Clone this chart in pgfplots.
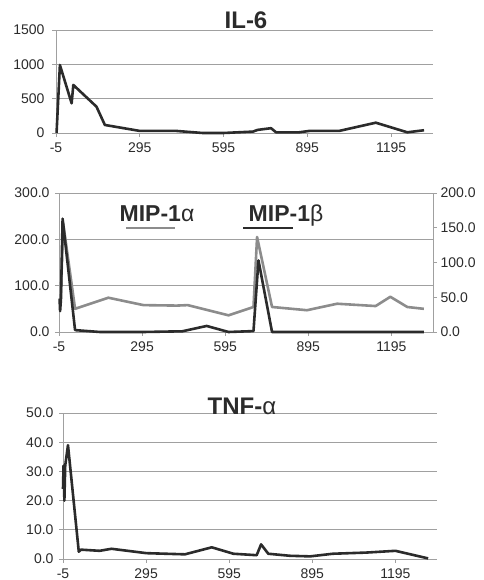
\documentclass[border=0pt]{standalone}
\usepackage{pgfplots}
\pgfplotsset{compat=1.18}
\usepackage{fontspec}
\setmainfont{Liberation Sans}

\definecolor{dk}{HTML}{2B2B2B}
\definecolor{lg}{HTML}{8C8C8C}
\definecolor{gridc}{HTML}{A0A0A0}

\pgfplotsset{
  excel/.style={
    scale only axis,
    anchor=south west,
    xmin=-5, xmax=1345,
    xtick={-5,295,595,895,1195},
    axis x line*=bottom, axis y line*=left,
    axis line style={gridc, line width=0.8pt},
    tick style={gridc, line width=0.8pt},
    tick align=outside, major tick length=4pt,
    ymajorgrids, grid style={gridc, line width=0.6pt},
    ticklabel style={font=\fontsize{14}{14}\selectfont, text=dk},
    xticklabel style={yshift=-2pt},
    /pgf/number format/assume math mode=true,
    /pgf/number format/1000 sep={},
    scaled ticks=false,
    clip=false,
  },
  onedec/.style={yticklabel style={/pgf/number format/fixed,
      /pgf/number format/fixed zerofill, /pgf/number format/precision=1}},
}

\begin{document}
\begin{tikzpicture}
\useasboundingbox (0,0) rectangle (483pt,580pt);

% IL-6
\begin{axis}[excel, at={(56pt,447pt)}, width=377pt, height=103pt,
  ymin=0, ymax=1500, ytick={0,500,1000,1500}, yticklabel style={xshift=-4pt}]
\addplot[dk, line width=2.6pt, line join=round] coordinates {
(-3,0)(9,990)(51,432)(57,700)(140,383)(170,117)(295,30)(426,30)(520,0)(595,0)
(700,20)(717,45)(765,70)(783,10)(866,10)(902,30)(1009,30)(1140,150)(1253,10)(1313,40)};
\end{axis}
\node[anchor=base, font=\bfseries\fontsize{24}{24}\selectfont, text=dk] at (246pt,551pt) {IL-6};

% MIP-1 alpha (left axis)
\begin{axis}[excel, onedec, at={(59pt,248pt)}, width=374pt, height=139pt,
  ymin=0, ymax=300, ytick={0,100,200,300}, yticklabel style={xshift=-2pt}]
\addplot[lg, line width=2.6pt, line join=round] coordinates {
(2,84)(10,235)(53,50)(173,74)(300,58)(420,57)(460,58)(607,36)(697,54)(710,205)
(764,54)(890,47)(999,61)(1138,56)(1191,76)(1252,54)(1312,50)};
\end{axis}
% MIP-1 beta (right axis)
\begin{axis}[excel, onedec, at={(59pt,248pt)}, width=374pt, height=139pt,
  axis x line=none, axis y line*=right, ymajorgrids=false,
  ymin=0, ymax=200, ytick={0,50,100,150,200}]
\addplot[dk, line width=2.6pt, line join=round] coordinates {
(-3,48)(-1,30)(2,47)(8,163)(53,2.7)(143,0)(300,0)(440,1)(528,8.7)(607,0)
(697,1.3)(715,103)(764,0)(900,0)(1312,0)};
\end{axis}
\node[anchor=base, font=\bfseries\fontsize{23}{23}\selectfont, text=dk] at (157pt,358pt) {MIP-1{\mdseries α}};
\draw[lg, line width=2.6pt] (126pt,352pt) -- (175pt,352pt);
\node[anchor=base, font=\bfseries\fontsize{23}{23}\selectfont, text=dk] at (286pt,358pt) {MIP-1{\mdseries β}};
\draw[dk, line width=2.6pt] (243pt,352pt) -- (293pt,352pt);

% TNF-alpha
\begin{axis}[excel, onedec, at={(63pt,21pt)}, width=374pt, height=146pt,
  ymin=0, ymax=50, ytick={0,10,20,30,40,50}, yticklabel style={xshift=-2pt}]
\addplot[dk, line width=2.6pt, line join=round] coordinates {
(-5,24)(-3,32)(0,20)(3,32)(13,39)(52,2.5)(60,3.2)(127,2.8)(170,3.5)(296,2.0)
(435,1.6)(532,4.0)(610,1.8)(694,1.3)(710,5.0)(736,1.8)(814,1.1)(887,0.9)
(969,1.8)(1090,2.2)(1195,2.8)(1313,0.2)};
\end{axis}
\node[anchor=base, font=\bfseries\fontsize{24}{24}\selectfont, text=dk] at (242pt,165pt) {TNF-{\mdseries α}};
\end{tikzpicture}
\end{document}
